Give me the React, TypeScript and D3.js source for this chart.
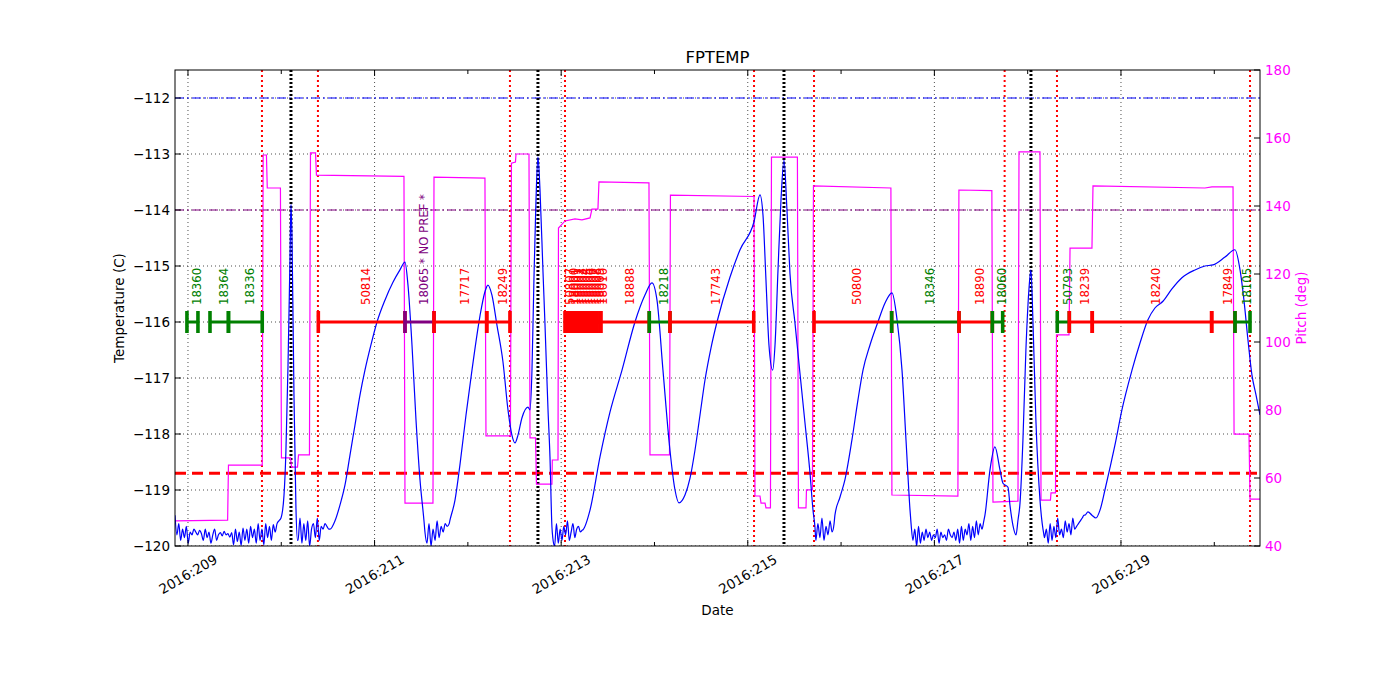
import React, { useEffect, useRef } from 'react';
import * as d3 from 'd3';

// ---- data (day of 2016) ----
const xTickDays = [209, 211, 213, 215, 217, 219];
const xMinorDays = [210, 212, 214, 216, 218, 220];
const tempTicks = [-120, -119, -118, -117, -116, -115, -114, -113, -112];
const pitchTicks = [40, 60, 80, 100, 120, 140, 160, 180];

// radiation zone boundaries (red dotted) and perigee times (black dotted)
const radZoneDays = [209.793, 210.393, 212.451, 213.041, 215.067, 215.71, 217.753, 218.314, 220.383];
const perigeeDays = [210.104, 212.751, 215.388, 218.035];

// reference levels
const planningLimit = -112;
const nominalLimit = -114;
const redLimit = -118.7;
const obsLevel = -116;

// observations: id, start, stop, kind
const obsIds = ['18360', '18364', '18336', '50814', '18065 * NO PREF *', '17717', '18249',
  '50807', '18000', '18001', '18002', '18003', '18004', '18005', '18006', '18007', '18008', '18009', '18010',
  '18888', '18218', '17743', '50800', '18346', '18890', '18060', '50793', '18239', '18240', '17849', '18105'];
const obsStart = [208.989, 209.236, 209.434, 210.397, 211.326, 211.637, 212.202,
  213.041, 213.068, 213.1, 213.131, 213.163, 213.194, 213.226, 213.257, 213.289, 213.32, 213.352, 213.383,
  213.427, 213.944, 214.166, 215.71, 216.542, 217.264, 217.621, 218.317, 218.446, 218.692, 219.972, 220.222];
const obsStop = [209.107, 209.434, 209.796, 211.326, 211.637, 212.202, 212.451,
  213.058, 213.1, 213.131, 213.163, 213.194, 213.226, 213.257, 213.289, 213.32, 213.352, 213.383, 213.415,
  213.944, 214.166, 215.064, 216.542, 217.264, 217.621, 217.732, 218.446, 218.692, 219.972, 220.222, 220.383];
const obsKind = ['hrc', 'hrc', 'hrc', 'acis', 'nopref', 'acis', 'acis',
  'acis', 'acis', 'acis', 'acis', 'acis', 'acis', 'acis', 'acis', 'acis', 'acis', 'acis', 'acis',
  'acis', 'hrc', 'acis', 'acis', 'hrc', 'acis', 'hrc', 'hrc', 'acis', 'acis', 'acis', 'hrc'];

// FPTEMP smooth stretches [day, degC]
const tempRise1: [number, number][] = [
  [209.997, -119.5], [210.029, -119.1], [210.05, -118.3], [210.072, -116.8], [210.093, -114.9],
  [210.104, -113.9], [210.115, -114.5], [210.136, -117.3], [210.157, -119.3], [210.174, -119.9]];
const tempRise2: [number, number][] = [
  [210.522, -119.7], [210.576, -119.55], [210.629, -119.27], [210.683, -118.91], [210.736, -118.38],
  [210.79, -117.84], [210.844, -117.3], [210.897, -116.86], [210.961, -116.41], [211.026, -116.0],
  [211.111, -115.61], [211.197, -115.29], [211.272, -115.07], [211.326, -114.93], [211.358, -115.34],
  [211.401, -116.41], [211.444, -117.75], [211.487, -118.82], [211.529, -119.54]];
const tempRise3: [number, number][] = [
  [211.808, -119.54], [211.862, -119.18], [211.915, -118.55], [211.98, -117.66], [212.044, -116.86],
  [212.13, -115.89], [212.183, -115.46], [212.215, -115.34], [212.258, -115.52], [212.311, -116.05],
  [212.376, -116.71], [212.43, -117.57], [212.472, -118.02], [212.505, -118.16], [212.537, -118.02],
  [212.58, -117.71], [212.644, -117.52], [212.666, -117.57], [212.687, -116.86], [212.708, -115.25],
  [212.73, -113.82], [212.751, -113.05], [212.773, -113.64], [212.805, -115.1], [212.826, -116.02],
  [212.859, -117.57], [212.88, -118.41], [212.901, -119.66]];
const tempRise4: [number, number][] = [
  [213.234, -119.71], [213.309, -119.36], [213.416, -118.41], [213.523, -117.61], [213.652, -116.86],
  [213.791, -116.0], [213.898, -115.52], [213.973, -115.3], [214.027, -115.61], [214.091, -116.86],
  [214.166, -118.29], [214.22, -119.0], [214.263, -119.23], [214.327, -119.09], [214.381, -118.79],
  [214.434, -118.29], [214.488, -117.66], [214.541, -117.04], [214.606, -116.46], [214.67, -116.0],
  [214.809, -115.2], [214.917, -114.71], [215.067, -114.21], [215.131, -113.73], [215.163, -114.09],
  [215.195, -115.25], [215.227, -116.41], [215.267, -116.86], [215.292, -116.41], [215.324, -115.07],
  [215.356, -113.82], [215.388, -113.11], [215.42, -114.0], [215.452, -115.13], [215.506, -116.02],
  [215.559, -116.91], [215.613, -117.8], [215.667, -118.7], [215.699, -119.36], [215.72, -119.66]];
const tempRise5: [number, number][] = [
  [215.934, -119.45], [215.988, -119.13], [216.041, -118.82], [216.116, -118.11], [216.181, -117.39],
  [216.235, -116.86], [216.31, -116.41], [216.395, -116.0], [216.471, -115.66], [216.546, -115.48],
  [216.6, -115.96], [216.653, -116.86], [216.696, -118.11], [216.739, -119.36]];
const tempRise6: [number, number][] = [
  [217.542, -119.45], [217.596, -118.64], [217.649, -118.23], [217.703, -118.64], [217.735, -118.88],
  [217.789, -118.95], [217.81, -119.27], [217.842, -119.63], [217.875, -119.8], [217.896, -119.54],
  [217.918, -119.23], [217.949, -118.11], [217.981, -116.5], [218.013, -115.43], [218.035, -115.07],
  [218.056, -115.96], [218.088, -117.75], [218.132, -119.18], [218.174, -119.8]];
const tempRise7: [number, number][] = [
  [218.614, -119.45], [218.646, -119.39], [218.689, -119.45], [218.732, -119.5], [218.775, -119.36],
  [218.828, -119.0], [218.881, -118.61], [218.935, -118.2], [219.01, -117.57], [219.118, -116.86],
  [219.203, -116.38], [219.289, -115.96], [219.364, -115.75], [219.45, -115.63], [219.546, -115.41],
  [219.653, -115.21], [219.793, -115.07], [219.9, -115.0], [219.986, -114.98], [220.115, -114.84],
  [220.222, -114.71], [220.276, -115.07], [220.318, -115.61], [220.361, -116.32], [220.404, -116.95],
  [220.447, -117.3], [220.49, -117.66]];

// FPTEMP noisy stretches at the cold floor: equally sampled readings between two days
const coldA = [-119.45, -119.8, -119.6, -119.9, -119.7, -119.85, -119.65, -119.95, -119.75, -119.8,
  -119.7, -119.75, -119.8, -119.72, -119.78, -119.9, -119.7, -119.85, -119.75, -119.95, -119.8, -119.7,
  -119.9, -119.8, -119.76, -119.82, -119.74, -119.8, -119.78, -119.84, -119.76, -119.98, -119.7, -119.92,
  -119.75, -119.99, -119.68, -119.9, -119.7, -119.95, -119.65, -119.85, -119.7, -119.95, -119.6, -119.9,
  -119.7, -119.98, -119.6, -119.85, -119.65, -119.9, -119.62, -119.75, -119.6, -119.55];
const coldB = [-119.9, -119.5, -119.95, -119.6, -119.9, -119.55, -120.0, -119.7, -119.6, -119.85,
  -119.5, -119.9, -119.65, -119.7, -119.6, -119.65, -119.7];
const coldC = [-119.75, -119.95, -119.6, -120.0, -119.7, -119.9, -119.55, -119.85, -119.65, -119.75,
  -119.6, -119.65, -119.6];
const coldD = [-119.85, -120.0, -119.6, -119.95, -119.7, -119.9, -119.65, -119.8, -119.55, -119.9,
  -119.75, -119.6, -119.85, -119.7, -119.65, -119.75, -119.72];
const coldE = [-119.9, -119.6, -119.85, -119.5, -119.9, -119.65, -119.8, -119.55, -119.75, -119.6];
const coldF = [-119.6, -119.9, -119.7, -120.0, -119.65, -119.95, -119.75, -119.9, -119.7, -119.85,
  -119.75, -119.9, -119.8, -119.85, -119.7, -119.95, -119.75, -119.85, -119.8, -119.9, -119.7, -119.8,
  -119.85, -119.75, -119.9, -119.7, -119.95, -119.65, -119.9, -119.7, -119.8, -119.6, -119.9, -119.65,
  -119.85, -119.55, -119.8, -119.6, -119.7, -119.55];
const coldG = [-119.85, -119.7, -119.95, -119.6, -119.9, -119.65, -119.85, -119.5, -119.8, -119.7,
  -119.85, -119.55, -119.75, -119.6, -119.8, -119.5, -119.7, -119.65, -119.6, -119.55, -119.5, -119.45];
const coldSpans: [number, number, number[]][] = [
  [208.861, 209.975, coldA], [210.18, 210.51, coldB], [211.54, 211.8, coldC], [212.91, 213.225, coldD],
  [215.73, 215.925, coldE], [216.75, 217.53, coldF], [218.18, 218.605, coldG]];
const smoothSpans = [tempRise1, tempRise2, tempRise3, tempRise4, tempRise5, tempRise6, tempRise7];

// pitch [day, deg]
const pitch: [number, number][] = [
  [208.861, 47.4], [209.425, 47.6], [209.434, 63.8], [209.796, 63.8], [209.806, 155.0], [209.841, 155.0],
  [209.85, 145.3], [209.991, 145.3], [210.002, 65.9], [210.099, 65.9], [210.11, 63.2], [210.174, 63.2],
  [210.185, 66.8], [210.302, 66.8], [210.313, 155.6], [210.367, 155.6], [210.377, 149.1], [211.315, 148.7],
  [211.326, 52.6], [211.626, 52.6], [211.637, 148.5], [212.183, 148.2], [212.194, 72.4], [212.456, 72.4],
  [212.467, 152.6], [212.51, 152.9], [212.516, 155.3], [212.655, 155.3], [212.666, 71.8], [212.725, 71.8],
  [212.735, 58.2], [212.901, 58.2], [212.905, 65.3], [212.966, 65.3], [212.971, 133.5], [213.041, 135.6],
  [213.148, 136.2], [213.223, 135.9], [213.309, 136.5], [213.33, 139.1], [213.394, 139.1], [213.405, 147.1],
  [213.941, 146.8], [213.952, 66.8], [214.161, 66.8], [214.171, 143.2], [215.067, 142.8], [215.077, 54.7],
  [215.131, 54.7], [215.142, 52.6], [215.185, 52.6], [215.195, 51.2], [215.243, 51.2], [215.254, 154.4],
  [215.532, 154.4], [215.543, 51.2], [215.624, 51.2], [215.629, 56.5], [215.693, 56.5], [215.704, 145.9],
  [216.534, 145.3], [216.545, 55.0], [217.252, 54.7], [217.263, 144.7], [217.616, 144.5], [217.628, 52.9],
  [217.896, 53.2], [217.907, 155.9], [218.132, 155.9], [218.143, 53.5], [218.244, 53.5], [218.25, 55.6],
  [218.298, 55.6], [218.309, 102.1], [218.443, 102.1], [218.454, 127.6], [218.689, 127.6], [218.7, 145.9],
  [219.9, 145.3], [219.975, 145.6], [220.201, 145.6], [220.212, 72.9], [220.372, 72.9], [220.383, 53.8],
  [220.49, 53.8]];

const kindColor: Record<string, string> = { acis: '#ff0000', hrc: '#008000', nopref: '#800080' };

const W = 1400;
const H = 700;
const L = 175, R = 1260, T = 70, B = 546;
const FONT = 'DejaVu Sans, sans-serif';

export default function App() {
  const svgRef = useRef<SVGSVGElement>(null);

  useEffect(() => {
    if (!svgRef.current) return;
    const svg = d3.select(svgRef.current);
    svg.selectAll('*').remove();

    const x = d3.scaleLinear().domain([208.861, 220.49]).range([L, R]);
    const yT = d3.scaleLinear().domain([-120, -111.5]).range([B, T]);
    const yP = d3.scaleLinear().domain([40, 180]).range([B, T]);

    svg.append('rect').attr('width', W).attr('height', H).attr('fill', '#fff');

    svg.append('defs').append('clipPath').attr('id', 'plot')
      .append('rect').attr('x', L).attr('y', T).attr('width', R - L).attr('height', B - T);

    const g = svg.append('g').attr('clip-path', 'url(#plot)');

    // grid
    g.selectAll('.gx').data(xTickDays).enter().append('line')
      .attr('x1', d => x(d)).attr('x2', d => x(d)).attr('y1', T).attr('y2', B)
      .attr('stroke', '#000').attr('stroke-width', 0.7).attr('stroke-dasharray', '1,3');
    g.selectAll('.gy').data(tempTicks).enter().append('line')
      .attr('x1', L).attr('x2', R).attr('y1', d => yT(d)).attr('y2', d => yT(d))
      .attr('stroke', '#000').attr('stroke-width', 0.7).attr('stroke-dasharray', '1,3');

    // limits
    g.append('line').attr('x1', L).attr('x2', R).attr('y1', yT(planningLimit)).attr('y2', yT(planningLimit))
      .attr('stroke', '#0000ff').attr('stroke-width', 1).attr('stroke-dasharray', '9,3,2,3');
    g.append('line').attr('x1', L).attr('x2', R).attr('y1', yT(nominalLimit)).attr('y2', yT(nominalLimit))
      .attr('stroke', '#800080').attr('stroke-width', 1).attr('stroke-dasharray', '9,3,2,3');
    g.append('line').attr('x1', L).attr('x2', R).attr('y1', yT(redLimit)).attr('y2', yT(redLimit))
      .attr('stroke', '#ff0000').attr('stroke-width', 3).attr('stroke-dasharray', '11,6');

    // rad zone + perigee
    g.selectAll('.rz').data(radZoneDays).enter().append('line')
      .attr('x1', d => x(d)).attr('x2', d => x(d)).attr('y1', T).attr('y2', B)
      .attr('stroke', '#ff0000').attr('stroke-width', 2).attr('stroke-dasharray', '2,3');
    g.selectAll('.pg').data(perigeeDays).enter().append('line')
      .attr('x1', d => x(d)).attr('x2', d => x(d)).attr('y1', T).attr('y2', B)
      .attr('stroke', '#000').attr('stroke-width', 3).attr('stroke-dasharray', '2,2');

    // pitch
    const pitchLine = d3.line<[number, number]>().x(d => x(d[0])).y(d => yP(d[1]));
    g.append('path').attr('d', pitchLine(pitch) || '').attr('fill', 'none')
      .attr('stroke', '#ff00ff').attr('stroke-width', 1.2);

    // temperature series
    const tempSeries: [number, number][] = [];
    const cold = coldSpans.map(([a, b, vals]) =>
      vals.map((v, i) => [a + ((b - a) * i) / (vals.length - 1), v] as [number, number]));
    [cold[0], smoothSpans[0], cold[1], smoothSpans[1], cold[2], smoothSpans[2], cold[3], smoothSpans[3],
      cold[4], smoothSpans[4], cold[5], smoothSpans[5], cold[6], smoothSpans[6]]
      .forEach(part => part.forEach(p => tempSeries.push(p)));
    const tempLine = d3.line<[number, number]>().x(d => x(d[0])).y(d => yT(d[1])).curve(d3.curveMonotoneX);
    g.append('path').attr('d', tempLine(tempSeries) || '').attr('fill', 'none')
      .attr('stroke', '#0000ff').attr('stroke-width', 1.2);

    // observations
    const yo = yT(obsLevel);
    obsIds.forEach((id, i) => {
      const c = kindColor[obsKind[i]];
      const x0 = x(obsStart[i]);
      const x1 = x(obsStop[i]);
      g.append('line').attr('x1', x0).attr('x2', x1).attr('y1', yo).attr('y2', yo)
        .attr('stroke', c).attr('stroke-width', 3);
      [x0, x1].forEach(xx => g.append('line').attr('x1', xx).attr('x2', xx)
        .attr('y1', yo - 11).attr('y2', yo + 11).attr('stroke', c).attr('stroke-width', 3.6));
      const xm = (x0 + x1) / 2 + 4.5;
      g.append('text').attr('transform', `translate(${xm},305) rotate(-90)`)
        .attr('dominant-baseline', 'central').attr('fill', c)
        .style('font-family', FONT).style('font-size', '11.7px').text(id);
    });

    // frame
    svg.append('rect').attr('x', L).attr('y', T).attr('width', R - L).attr('height', B - T)
      .attr('fill', 'none').attr('stroke', '#000').attr('stroke-width', 1);

    // ticks
    const tk = svg.append('g').attr('stroke', '#000').attr('stroke-width', 1);
    xTickDays.forEach(d => {
      tk.append('line').attr('x1', x(d)).attr('x2', x(d)).attr('y1', B).attr('y2', B - 6);
      tk.append('line').attr('x1', x(d)).attr('x2', x(d)).attr('y1', T).attr('y2', T + 6);
    });
    xMinorDays.forEach(d => {
      tk.append('line').attr('x1', x(d)).attr('x2', x(d)).attr('y1', B).attr('y2', B - 4);
      tk.append('line').attr('x1', x(d)).attr('x2', x(d)).attr('y1', T).attr('y2', T + 4);
    });
    tempTicks.forEach(v => {
      tk.append('line').attr('x1', L).attr('x2', L + 6).attr('y1', yT(v)).attr('y2', yT(v));
    });
    pitchTicks.forEach(v => {
      tk.append('line').attr('x1', R).attr('x2', R - 6).attr('y1', yP(v)).attr('y2', yP(v));
    });

    // tick labels
    svg.selectAll('.xl').data(xTickDays).enter().append('text')
      .attr('transform', d => `translate(${x(d)},574) rotate(-30)`)
      .attr('text-anchor', 'middle').attr('dominant-baseline', 'central')
      .style('font-family', FONT).style('font-size', '13.5px').text(d => `2016:${d}`);
    svg.selectAll('.yl').data(tempTicks).enter().append('text')
      .attr('x', L - 5).attr('y', d => yT(d)).attr('text-anchor', 'end').attr('dominant-baseline', 'central')
      .style('font-family', FONT).style('font-size', '13.5px').text(d => `\u2212${Math.abs(d)}`);
    svg.selectAll('.pl').data(pitchTicks).enter().append('text')
      .attr('x', R + 5).attr('y', d => yP(d)).attr('dominant-baseline', 'central').attr('fill', '#ff00ff')
      .style('font-family', FONT).style('font-size', '13.5px').text(d => `${d}`);

    // titles
    svg.append('text').attr('x', (L + R) / 2).attr('y', 63).attr('text-anchor', 'middle')
      .style('font-family', FONT).style('font-size', '16.5px').text('FPTEMP');
    svg.append('text').attr('x', (L + R) / 2).attr('y', 615).attr('text-anchor', 'middle')
      .style('font-family', FONT).style('font-size', '13.5px').text('Date');
    svg.append('text').attr('transform', `translate(124,${(T + B) / 2}) rotate(-90)`).attr('text-anchor', 'middle')
      .style('font-family', FONT).style('font-size', '13.5px').text('Temperature (C)');
    svg.append('text').attr('transform', `translate(1306,${(T + B) / 2}) rotate(-90)`).attr('text-anchor', 'middle')
      .attr('fill', '#ff00ff').style('font-family', FONT).style('font-size', '13.5px').text('Pitch (deg)');
  }, []);

  return (
    <svg ref={svgRef} width={W} height={H} style={{ position: 'absolute', left: 0, top: 0 }} />
  );
}
